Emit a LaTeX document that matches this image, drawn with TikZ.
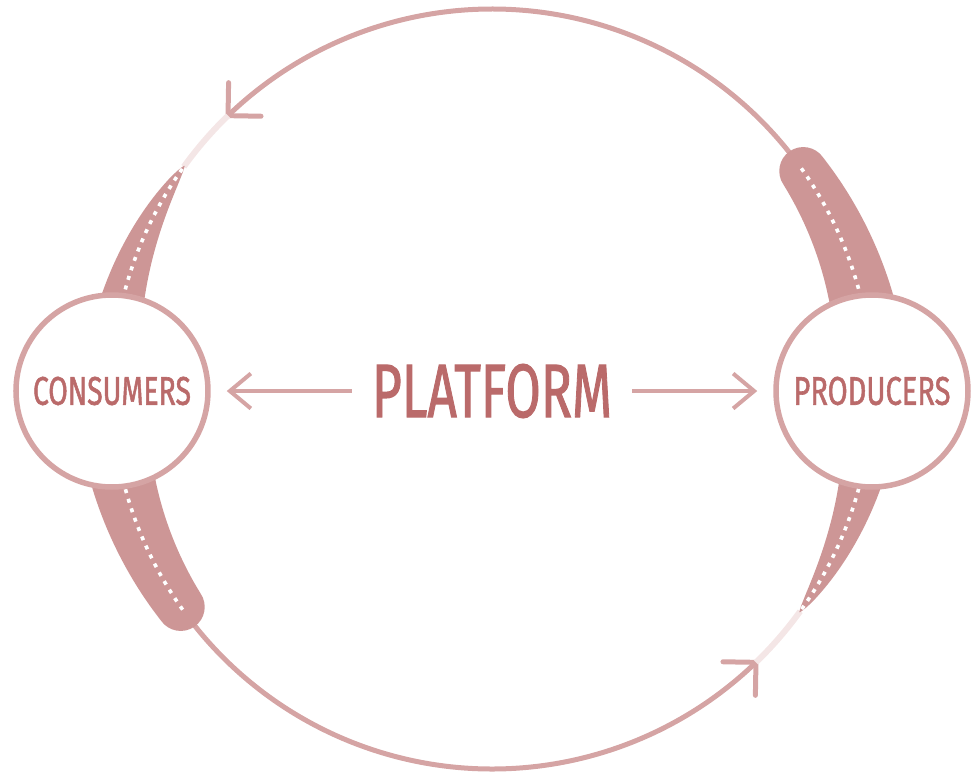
\documentclass[tikz,border=0pt]{standalone}
\usepackage{fontspec}
\setmainfont{Fira Sans}[FakeBold=1.6]
\usetikzlibrary{arrows.meta}
\definecolor{ring}{RGB}{213,164,164}
\definecolor{bandc}{RGB}{205,150,150}
\definecolor{txt}{RGB}{186,106,106}
\definecolor{faint}{RGB}{244,230,230}
\newcommand{\halfdeco}{%
  % solid ring arc with chevron
  \draw[ringline] (36:380) arc[start angle=36,end angle=134,radius=380];
  \draw[ringline,line cap=round,line join=miter] ([shift={(89:33)}]134:380) -- (134:380) -- ([shift={(-1:33)}]134:380);
  % faint segment
  \draw[draw=faint,line width=6pt] (134:380) arc[start angle=134,end angle=144.2,radius=380];
  % tapered band
  \fill[bandc] plot[domain=144.05:172,samples=50] (\x:{380+21*((\x-144)/21.5)^0.7})
     -- plot[domain=172:144.05,samples=50] (\x:{380-21*((\x-144)/21.5)^0.7}) -- cycle;
  \draw[dots] (144.6:380) arc[start angle=144.6,end angle=170,radius=380];
  % thick band with rounded end
  \fill[bandc] plot[domain=8:35,samples=40] (\x:{404+(35-\x)*0.37})
     arc[start angle=35,end angle=215,radius=24]
     -- plot[domain=35:8,samples=40] (\x:{356-(35-\x)*0.37}) -- cycle;
  \draw[dots] (35.5:380) arc[start angle=35.5,end angle=10,radius=380];
}
\begin{document}
\begin{tikzpicture}[x=1pt,y=1pt,
  ringline/.style={draw=ring,line width=5pt},
  dots/.style={draw=white,line width=3.6pt,dash pattern=on 4pt off 6pt},
  hub/.style={circle,draw=ring,line width=5.5pt,fill=white,minimum size=192pt,inner sep=0pt,text=txt},
  conn/.style={draw=ring,line width=4pt,-{Straight Barb[length=21pt,width=35pt,line width=4pt]}}]
\useasboundingbox (-492,-383) rectangle (480,389);
\halfdeco
\begin{scope}[rotate=180]
\halfdeco
\end{scope}
\node[hub] (cons) at (-380,-2) {\resizebox{158pt}{28pt}{CONSUMERS}};
\node[hub] (prod) at (380,-2) {\resizebox{157pt}{28pt}{PRODUCERS}};
\node[text=txt,inner sep=0pt] (plat) at (0,-2) {\resizebox{240pt}{53pt}{PLATFORM}};
\draw[conn,shorten <=20pt,shorten >=16pt] (plat.west) -- (cons);
\draw[conn,shorten <=20pt,shorten >=16pt] (plat.east) -- (prod);
\end{tikzpicture}
\end{document}
